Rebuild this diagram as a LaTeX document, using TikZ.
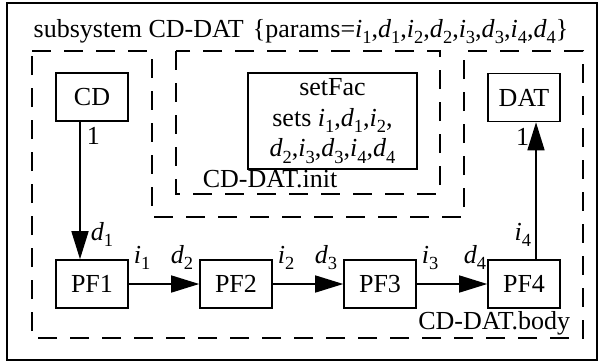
\documentclass[tikz,border=0pt]{standalone}
\usepackage{fontspec}
\setmainfont{Liberation Serif}
\usetikzlibrary{arrows.meta}
\newcommand{\sv}[2]{\textit{#1}\raisebox{-0.25em}{\fontsize{18.5}{18.5}\selectfont #2}}
\begin{document}
\begin{tikzpicture}[x=1pt,y=-1pt, line width=1.6pt,
  font=\fontsize{26}{29}\selectfont,
  box/.style={draw, minimum width=72pt, minimum height=48pt, inner sep=0pt},
  dsh/.style={dash pattern=on 19pt off 13pt},
  arr/.style={-{Triangle[length=28pt,width=17pt]}},
  lbl/.style={inner sep=0pt}]
\useasboundingbox (0,0) rectangle (604,362);
\draw (7,3) rectangle (597,360);
\node[lbl, anchor=base] (title) at (301,37)
  {subsystem CD-DAT\hspace{0.35em}\{params=\sv{i}{1},\sv{d}{1},\sv{i}{2},\sv{d}{2},\sv{i}{3},\sv{d}{3},\sv{i}{4},\sv{d}{4}\}};
% regions
\draw[dsh] (32,51) -- (152,51) -- (152,217) -- (464,217) -- (464,51) -- (583,51)
  -- (583,338) -- (32,338) -- cycle;
\draw[dsh] (176,51) rectangle (440,194);
% boxes
\node[box] (CD) at (92,97) {CD};
\node[box] (DAT) at (524,97.5) {DAT};
\node[box] (PF1) at (92,284) {PF1};
\node[box] (PF2) at (236,284) {PF2};
\node[box] (PF3) at (380,284) {PF3};
\node[box] (PF4) at (524,284) {PF4};
\node[draw, minimum width=169pt, minimum height=96pt, inner sep=0pt, align=center,
  font=\fontsize{26}{30.5}\selectfont]
  (setfac) at (332.5,121)
  {setFac\\sets \sv{i}{1},\sv{d}{1},\sv{i}{2},\\\sv{d}{2},\sv{i}{3},\sv{d}{3},\sv{i}{4},\sv{d}{4}};
\node[lbl, anchor=base west] (initlbl) at (202,187) {CD-DAT.init};
\node[lbl, anchor=base east] (bodylbl) at (571,329) {CD-DAT.body};
% connectors
\coordinate (cds) at ([xshift=-12pt]CD.south);
\coordinate (pf1n) at ([xshift=-12pt]PF1.north);
\coordinate (pf4n) at ([xshift=12pt]PF4.north);
\coordinate (dats) at ([xshift=12pt]DAT.south);
\draw[arr] (cds) -- (pf1n);
\draw[arr] (pf4n) -- (dats);
\draw[arr] (PF1.east) -- (PF2.west);
\draw[arr] (PF2.east) -- (PF3.west);
\draw[arr] (PF3.east) -- (PF4.west);
% labels
\node[lbl, anchor=north west] (one1) at ([xshift=6pt,yshift=-5pt]cds) {1};
\node[lbl, anchor=north east] (one2) at ([xshift=-6pt,yshift=-5pt]dats) {1};
\node[lbl, anchor=base west] (ld1) at (90,240) {\sv{d}{1}};
\node[lbl, anchor=base east] (li4) at (532,240) {\sv{i}{4}};
\node[lbl, anchor=base west] (li1) at (133,263) {\sv{i}{1}};
\node[lbl, anchor=base east] (ld2) at (194,263) {\sv{d}{2}};
\node[lbl, anchor=base west] (li2) at (277,263) {\sv{i}{2}};
\node[lbl, anchor=base east] (ld3) at (338,263) {\sv{d}{3}};
\node[lbl, anchor=base west] (li3) at (421,263) {\sv{i}{3}};
\node[lbl, anchor=base east] (ld4) at (487,263) {\sv{d}{4}};
\end{tikzpicture}
\end{document}
